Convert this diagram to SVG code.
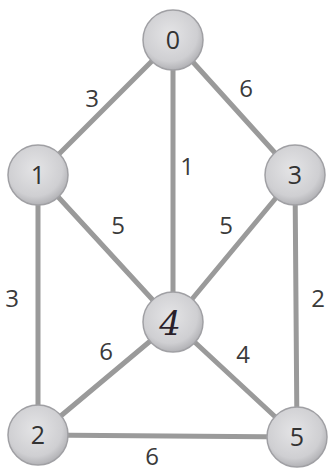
<svg xmlns="http://www.w3.org/2000/svg" width="335" height="473" viewBox="0 0 335 473">
<defs>
<radialGradient id="sph" cx="0.45" cy="0.4" r="0.65">
<stop offset="0" stop-color="#e4e4e6"/>
<stop offset="0.7" stop-color="#cfcfd2"/>
<stop offset="1" stop-color="#a9a9ad"/>
</radialGradient>
</defs>
<style>
.e{stroke:#9a9a9a;stroke-width:5;stroke-linecap:round}
.n{fill:url(#sph);stroke:#a0a0a4;stroke-width:1.5}
.t{font-family:"Open Sans","Liberation Sans",sans-serif;font-size:25px;fill:#333;text-anchor:middle}
.w{font-family:"Open Sans","Liberation Sans",sans-serif;font-size:24px;fill:#3a3a3a;text-anchor:middle}
</style>
<rect width="335" height="473" fill="#ffffff"/>
<g id="connectors">
<line class="e" x1="173" y1="40" x2="38" y2="175"/>
<line class="e" x1="173" y1="40" x2="295" y2="175"/>
<line class="e" x1="173" y1="40" x2="173" y2="322"/>
<line class="e" x1="38" y1="175" x2="173" y2="322"/>
<line class="e" x1="295" y1="175" x2="173" y2="322"/>
<line class="e" x1="38" y1="175" x2="38" y2="435"/>
<line class="e" x1="295" y1="175" x2="297" y2="437"/>
<line class="e" x1="38" y1="435" x2="173" y2="322"/>
<line class="e" x1="173" y1="322" x2="297" y2="437"/>
<line class="e" x1="38" y1="435" x2="297" y2="437"/>
</g>
<g id="edge-labels">
<text class="w" x="92" y="107">3</text>
<text class="w" x="246" y="97">6</text>
<text class="w" x="187" y="175">1</text>
<text class="w" x="118" y="234">5</text>
<text class="w" x="226" y="234">5</text>
<text class="w" x="12" y="307">3</text>
<text class="w" x="318" y="307">2</text>
<text class="w" x="106" y="360">6</text>
<text class="w" x="243" y="363">4</text>
<text class="w" x="152" y="465">6</text>
</g>
<g id="node-0"><circle class="n" cx="173" cy="40" r="30"/><text class="t" x="173" y="49">0</text></g>
<g id="node-1"><circle class="n" cx="38" cy="175" r="30"/><text class="t" x="38" y="184">1</text></g>
<g id="node-3"><circle class="n" cx="295" cy="175" r="30"/><text class="t" x="295" y="184">3</text></g>
<g id="node-4"><circle class="n" cx="173" cy="322" r="30"/><text x="170" y="335" font-family="'DejaVu Serif',serif" font-style="italic" font-size="34" fill="#2a1f2a" text-anchor="middle">4</text></g>
<g id="node-2"><circle class="n" cx="38" cy="435" r="30"/><text class="t" x="38" y="444">2</text></g>
<g id="node-5"><circle class="n" cx="297" cy="437" r="30"/><text class="t" x="297" y="446">5</text></g>
</svg>
